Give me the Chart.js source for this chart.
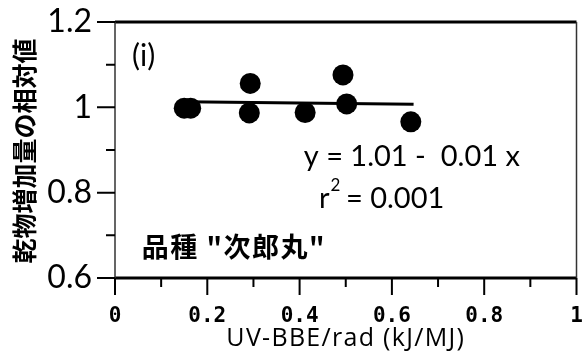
<!DOCTYPE html>
<html>
<head>
<meta charset="UTF-8" />
<title>UV-BBE</title>
<script src="https://cdn.jsdelivr.net/npm/chart.js"></script>
<style>
  html, body { margin: 0; padding: 0; background: #fff; }
</style>
</head>
<body>
<canvas id="chart" width="587" height="354"></canvas>
<script>
  // values
  const uvX = [0.150, 0.164, 0.293, 0.291, 0.412, 0.494, 0.502, 0.641];
  const relDry = [0.998, 0.998, 1.056, 0.987, 0.988, 1.076, 1.008, 0.966];
  const fitX = [0.15, 0.647];
  const fitY = [1.013, 1.007];

  const xTicks = [0, 0.2, 0.4, 0.6, 0.8, 1];
  const xTickLabels = ['0', '0.2', '0.4', '0.6', '0.8', '1'];
  const xMinor = [0.1, 0.3, 0.5, 0.7, 0.9];
  const yTicks = [0.6, 0.8, 1, 1.2];
  const yTickLabels = ['0.6', '0.8', '1', '1.2'];
  const yMinor = [0.7, 0.9, 1.1];

  const yTitle = '乾物増加量の相対値';
  const xTitle = 'UV-BBE/rad (kJ/MJ)';

  const pts = uvX.map((v, i) => ({ x: v, y: relDry[i] }));
  const fit = fitX.map((v, i) => ({ x: v, y: fitY[i] }));

  const framePlugin = {
    id: 'frame',
    afterDraw(chart) {
      const { ctx, chartArea: a, scales: { x, y } } = chart;
      ctx.save();
      ctx.strokeStyle = '#000';
      ctx.lineCap = 'butt';

      // frame: heavy top & bottom, thin sides
      ctx.lineWidth = 3;
      ctx.beginPath();
      ctx.moveTo(a.left, a.top); ctx.lineTo(a.right, a.top);
      ctx.moveTo(a.left, a.bottom); ctx.lineTo(a.right, a.bottom);
      ctx.stroke();
      ctx.lineWidth = 1.5;
      ctx.strokeStyle = '#333';
      ctx.beginPath();
      ctx.moveTo(a.left, a.top); ctx.lineTo(a.left, a.bottom);
      ctx.moveTo(a.right, a.top); ctx.lineTo(a.right, a.bottom);
      ctx.stroke();

      // tick marks
      ctx.strokeStyle = '#000';
      ctx.lineWidth = 2;
      ctx.beginPath();
      xTicks.forEach(v => { const p = x.getPixelForValue(v); ctx.moveTo(p, a.bottom); ctx.lineTo(p, a.bottom + 17); });
      xMinor.forEach(v => { const p = x.getPixelForValue(v); ctx.moveTo(p, a.bottom); ctx.lineTo(p, a.bottom + 9); });
      yTicks.forEach(v => { const p = y.getPixelForValue(v); ctx.moveTo(a.left - 18, p); ctx.lineTo(a.left, p); });
      yMinor.forEach(v => { const p = y.getPixelForValue(v); ctx.moveTo(a.left - 9, p); ctx.lineTo(a.left, p); });
      ctx.stroke();

      // texts
      ctx.fillStyle = '#000';
      ctx.textBaseline = 'middle';
      ctx.textAlign = 'left';
      ctx.font = '30px Lato';
      ctx.fillText('(i)', x.getPixelForValue(0.037), y.getPixelForValue(1.12));

      ctx.font = '29px Lato';
      ctx.fillText('y = 1.01 -  0.01 x', x.getPixelForValue(0.409), y.getPixelForValue(0.885));

      const rx = x.getPixelForValue(0.442), ry = y.getPixelForValue(0.787);
      ctx.fillText('r', rx, ry);
      const rw = ctx.measureText('r').width;
      ctx.font = '17px Lato';
      ctx.fillText('2', rx + rw + 1, ry - 13);
      ctx.font = '29px Lato';
      ctx.fillText(' = 0.001', rx + rw + 9, ry);

      ctx.font = 'bold 27px "Noto Sans CJK JP"';
      ctx.letterSpacing = '1.5px';
      ctx.fillText('品種 "次郎丸"', x.getPixelForValue(0.058), y.getPixelForValue(0.673));

      // x title
      ctx.textAlign = 'center';
      ctx.font = '25px "Open Sans"';
      ctx.letterSpacing = '1.3px';
      ctx.fillText(xTitle, (a.left + a.right) / 2, 339);
      ctx.letterSpacing = '0px';

      // y title
      ctx.save();
      ctx.translate(24, (a.top + a.bottom) / 2 + 1);
      ctx.rotate(-Math.PI / 2);
      ctx.textAlign = 'center';
      ctx.font = 'bold 25px "Noto Sans CJK JP"';
      ctx.fillText(yTitle, 0, 0);
      ctx.restore();

      ctx.restore();
    }
  };

  new Chart(document.getElementById('chart'), {
    type: 'scatter',
    data: {
      datasets: [
        {
          data: pts,
          backgroundColor: '#000',
          borderWidth: 0,
          pointRadius: 10.5,
          pointHoverRadius: 10.5
        },
        {
          type: 'line',
          data: fit,
          borderColor: '#000',
          borderWidth: 3,
          pointRadius: 0,
          fill: false
        }
      ]
    },
    options: {
      responsive: false,
      animation: false,
      layout: { padding: { top: 22, right: 8, left: 0, bottom: 0 } },
      plugins: { legend: { display: false }, tooltip: { enabled: false } },
      scales: {
        x: {
          type: 'linear',
          min: 0,
          max: 1,
          afterBuildTicks: s => { s.ticks = xTicks.map(v => ({ value: v })); },
          afterFit: s => { s.height = 76; s.paddingLeft = 0; s.paddingRight = 0; },
          grid: { display: false, drawTicks: false },
          border: { display: false },
          ticks: {
            padding: 26,
            maxRotation: 0,
            color: '#000',
            font: { family: '"DejaVu Sans Mono"', size: 21, weight: 'bold' },
            callback: (v, i) => xTickLabels[i]
          }
        },
        y: {
          type: 'linear',
          min: 0.6,
          max: 1.2,
          afterBuildTicks: s => { s.ticks = yTicks.map(v => ({ value: v })); },
          afterFit: s => { s.width = 115; s.paddingTop = 0; s.paddingBottom = 0; },
          grid: { display: false, drawTicks: false },
          border: { display: false },
          ticks: {
            padding: 23,
            color: '#000',
            font: { family: 'Lato', size: 32 },
            callback: (v, i) => yTickLabels[i]
          }
        }
      }
    },
    plugins: [framePlugin]
  });
</script>
</body>
</html>
